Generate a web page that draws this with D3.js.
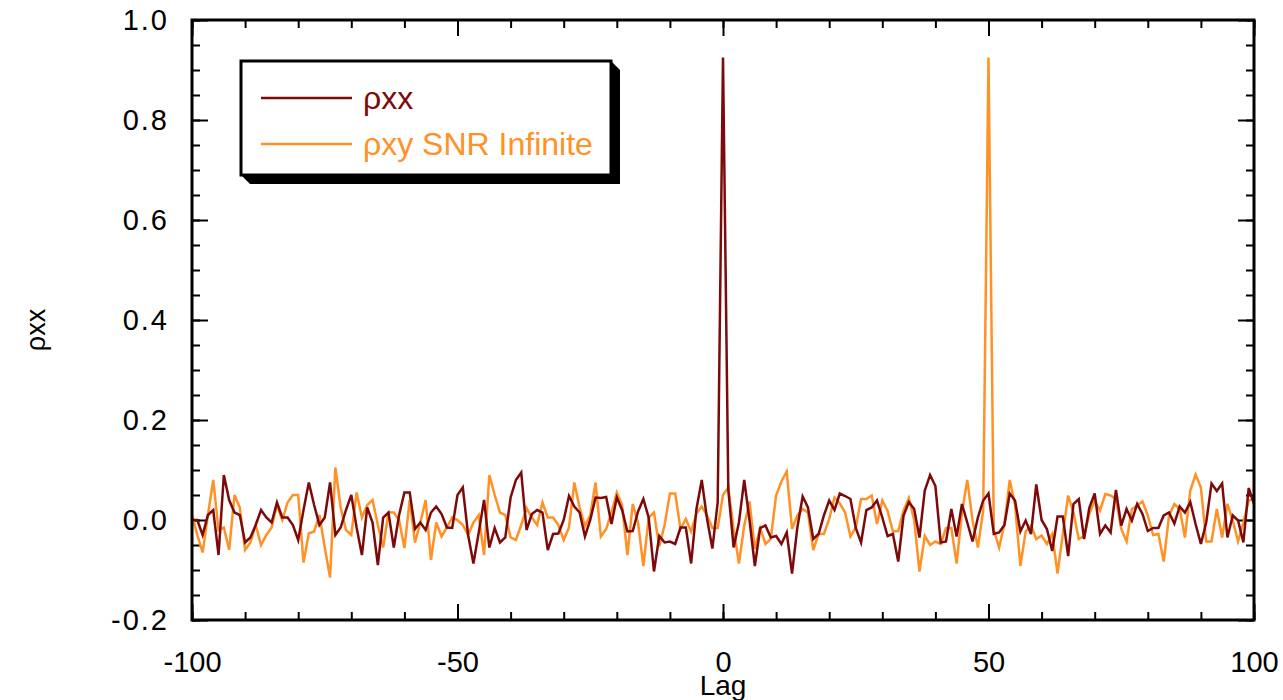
<!DOCTYPE html>
<html>
<head>
<meta charset="utf-8">
<script src="https://cdn.jsdelivr.net/npm/d3@7"></script>
<style>
	html, body { margin: 0; padding: 0; background: #fff; }
	svg text { font-family: "Liberation Sans", Arial, sans-serif; }
</style>
</head>
<body>
<div id="chart"></div>
<script>
"use strict";

// lag axis, one value per step
var lags = d3.range(-100, 101);

// autocorrelation (lag -100 .. 100)
var rhoXX = [
	0.0, 0.0, -0.03, 0.01, 0.02, -0.07, 0.09, 0.04, 0.015, 0.01,
	-0.045, -0.035, -0.01, 0.02, 0.005, -0.005, 0.035, 0.005, 0.005, -0.01,
	-0.04, 0.02, 0.075, 0.03, -0.01, 0.005, 0.075, -0.03, -0.015, 0.02,
	0.05, -0.015, -0.07, 0.025, -0.005, -0.09, 0.005, 0.015, -0.055, 0.01,
	0.055, 0.055, -0.018, -0.005, -0.02, 0.015, 0.027, 0.012, -0.015, -0.016,
	0.05, 0.065, -0.03, -0.087, -0.025, 0.04, -0.055, -0.016, -0.045, -0.035,
	0.045, 0.08, 0.095, -0.02, 0.012, 0.02, 0.015, -0.06, -0.028, -0.027,
	0.0, 0.048, 0.027, 0.015, -0.033, 0.0, 0.045, 0.044, 0.046, -0.008,
	0.045, 0.02, -0.023, -0.022, 0.017, 0.042, 0.005, -0.103, -0.032, -0.045,
	-0.043, -0.048, -0.015, -0.015, -0.087, 0.022, 0.08, 0.002, -0.057, 0.035,
	0.925,
	0.06, -0.055, -0.005, 0.08, -0.001, -0.092, -0.016, -0.011, -0.035, -0.032,
	-0.048, -0.025, -0.107, -0.015, 0.047, 0.025, -0.038, -0.028, 0.009, 0.039,
	0.02, 0.053, 0.048, 0.042, -0.016, -0.045, 0.02, 0.025, 0.039, 0.005,
	-0.032, -0.028, -0.083, 0.009, 0.036, 0.022, -0.035, 0.059, 0.09, 0.068,
	-0.045, -0.043, 0.022, -0.033, 0.032, -0.005, -0.043, 0.005, 0.039, 0.053,
	-0.028, -0.025, -0.01, 0.053, 0.039, -0.023, -0.001, -0.028, 0.071, 0.0,
	-0.018, -0.062, 0.007, 0.007, -0.072, 0.032, 0.042, -0.038, 0.025, 0.053,
	-0.028, -0.011, -0.025, 0.06, -0.011, 0.022, -0.001, 0.032, 0.012, -0.022,
	-0.016, -0.016, 0.009, 0.015, -0.007, 0.027, 0.015, 0.036, -0.008, -0.048,
	-0.005, 0.073, 0.058, 0.073, -0.035, 0.009, -0.001, -0.045, 0.064, 0.032
];

// cross-correlation, SNR infinite (peak at lag 50)
var rhoXY = [
	0.01, -0.03, -0.065, 0.01, 0.08, -0.02, -0.015, -0.06, 0.05, 0.025,
	-0.06, -0.045, -0.01, -0.05, -0.03, -0.015, 0.03, 0.0, 0.035, 0.05,
	0.05, -0.085, -0.027, -0.023, 0.01, -0.055, -0.115, 0.105, 0.025, -0.02,
	-0.03, 0.055, 0.005, 0.03, 0.04, -0.01, -0.055, 0.015, 0.015, 0.0,
	-0.056, 0.04, -0.045, -0.005, 0.04, -0.08, -0.005, -0.033, -0.015, 0.005,
	0.0, -0.01, -0.03, -0.005, 0.01, -0.07, 0.09, 0.05, 0.015, 0.01,
	-0.035, -0.04, -0.01, 0.024, 0.005, -0.01, 0.035, 0.005, 0.005, -0.01,
	-0.04, -0.015, 0.075, 0.025, -0.012, 0.01, 0.075, -0.033, -0.018, 0.015,
	0.055, 0.03, -0.07, 0.032, -0.005, -0.092, 0.005, 0.015, -0.053, -0.01,
	0.053, 0.053, -0.018, 0.002, -0.023, 0.013, 0.027, 0.009, -0.016, -0.016,
	0.05, 0.065, -0.018, -0.087, -0.011, 0.037, -0.058, -0.016, -0.048, -0.038,
	0.049, 0.077, 0.097, -0.018, 0.009, 0.022, 0.015, -0.06, -0.028, -0.028,
	0.002, 0.045, 0.033, 0.015, -0.033, -0.015, 0.042, 0.042, 0.049, -0.008,
	0.039, 0.018, -0.023, -0.022, 0.019, 0.044, 0.0, -0.103, -0.032, -0.05,
	-0.043, -0.048, -0.016, -0.016, -0.087, 0.015, 0.08, -0.001, -0.055, 0.018,
	0.925, -0.02, -0.055, -0.008, 0.08, 0.03, -0.092, -0.023, -0.011, -0.038,
	-0.031, -0.048, -0.028, -0.107, -0.028, 0.049, 0.015, -0.038, -0.032, 0.012,
	0.039, 0.019, 0.052, 0.049, 0.042, -0.018, -0.043, 0.022, 0.029, 0.037,
	0.009, -0.03, -0.028, -0.083, 0.009, 0.032, 0.022, -0.035, 0.059, 0.091,
	0.065, -0.043, -0.043, 0.022, -0.035, 0.032, -0.001, -0.043, -0.005, 0.039, 0.042
];

var xTicks = [-100, -50, 0, 50, 100];
var yTicks = [-0.2, 0, 0.2, 0.4, 0.6, 0.8, 1.0];
var seriesNames = ["\u03c1xx", "\u03c1xy SNR Infinite"];
var seriesColors = ["#7d0a0a", "#ff9126"];

var width = 1283,
	height = 700,
	margin = {top: 20, right: 29, bottom: 80, left: 192},
	innerW = width - margin.left - margin.right,
	innerH = height - margin.top - margin.bottom;

var svg = d3.select("#chart").append("svg")
	.attr("width", width)
	.attr("height", height);

var g = svg.append("g")
	.attr("transform", "translate(" + margin.left + "," + margin.top + ")");

var x = d3.scaleLinear().domain([-100, 100]).range([0, innerW]);
var y = d3.scaleLinear().domain([-0.2, 1.0]).range([innerH, 0]);

// minor ticks every 10 lags / 0.05, major ones carry the labels
var xMinor = d3.range(-100, 101, 10);
var yMinor = d3.range(-4, 21).map(function(i) { return i * 0.05; });

function styleAxis(sel) {
	sel.select(".domain").remove();
	sel.selectAll("line").attr("stroke", "#000").attr("stroke-width", 2);
	sel.selectAll("text")
		.attr("fill", "#000")
		.attr("font-size", 29);
}

// left
g.append("g").call(d3.axisLeft(y).tickValues(yMinor).tickSize(-8).tickFormat("")).call(styleAxis);
g.append("g").call(d3.axisLeft(y).tickValues(yTicks).tickSize(-16).tickPadding(23)
	.tickFormat(function(d) { return d.toFixed(1); })).call(styleAxis)
	.selectAll("text").attr("letter-spacing", 2);
// right
g.append("g").attr("transform", "translate(" + innerW + ",0)")
	.call(d3.axisRight(y).tickValues(yMinor).tickSize(-8).tickFormat("")).call(styleAxis);
g.append("g").attr("transform", "translate(" + innerW + ",0)")
	.call(d3.axisRight(y).tickValues(yTicks).tickSize(-16).tickFormat("")).call(styleAxis);
// bottom
g.append("g").attr("transform", "translate(0," + innerH + ")")
	.call(d3.axisBottom(x).tickValues(xMinor).tickSize(-8).tickFormat("")).call(styleAxis);
g.append("g").attr("transform", "translate(0," + innerH + ")")
	.call(d3.axisBottom(x).tickValues(xTicks).tickSize(-16).tickPadding(31)
		.tickFormat(function(d) { return String(d); })).call(styleAxis);
// top
g.append("g").call(d3.axisTop(x).tickValues(xMinor).tickSize(-8).tickFormat("")).call(styleAxis);
g.append("g").call(d3.axisTop(x).tickValues(xTicks).tickSize(-16).tickFormat("")).call(styleAxis);

// the two series
var line = d3.line()
	.x(function(d) { return x(d[0]); })
	.y(function(d) { return y(d[1]); });

[rhoXY, rhoXX].forEach(function(vals) {
	var i = vals === rhoXX ? 0 : 1;
	g.append("path")
		.datum(lags.map(function(l, k) { return [l, vals[k]]; }))
		.attr("fill", "none")
		.attr("stroke", seriesColors[i])
		.attr("stroke-width", 2.5)
		.attr("stroke-linejoin", "miter")
		.attr("d", line);
});

// frame
g.append("rect")
	.attr("width", innerW)
	.attr("height", innerH)
	.attr("fill", "none")
	.attr("stroke", "#000")
	.attr("stroke-width", 3);

// axis titles
svg.append("text")
	.attr("x", margin.left + innerW / 2)
	.attr("y", 695)
	.attr("text-anchor", "middle")
	.attr("font-size", 28)
	.text("Lag");

svg.append("text")
	.attr("transform", "translate(45,330) rotate(-90)")
	.attr("text-anchor", "middle")
	.attr("font-size", 27)
	.text("\u03c1xx");

// legend box with a drop shadow
var lg = {x: 241, y: 61, w: 370, h: 114, off: 9};
svg.append("polygon")
	.attr("points", [
		[lg.x + lg.w, lg.y],
		[lg.x + lg.w + lg.off, lg.y + lg.off],
		[lg.x + lg.w + lg.off, lg.y + lg.h + lg.off],
		[lg.x + lg.off, lg.y + lg.h + lg.off],
		[lg.x, lg.y + lg.h]
	].join(" "))
	.attr("fill", "#000");
svg.append("rect")
	.attr("x", lg.x).attr("y", lg.y)
	.attr("width", lg.w).attr("height", lg.h)
	.attr("fill", "#fff")
	.attr("stroke", "#000")
	.attr("stroke-width", 3);

var items = svg.selectAll(".legend-item")
	.data(seriesNames)
	.enter().append("g")
	.attr("class", "legend-item")
	.attr("transform", function(d, i) { return "translate(" + lg.x + "," + (lg.y + 37 + i * 46) + ")"; });

items.append("line")
	.attr("x1", 20).attr("x2", 111)
	.attr("stroke", function(d, i) { return seriesColors[i]; })
	.attr("stroke-width", 2.5);

items.append("text")
	.attr("x", 122)
	.attr("dy", "0.35em")
	.attr("font-size", 32)
	.attr("fill", function(d, i) { return seriesColors[i]; })
	.text(function(d) { return d; });
</script>
</body>
</html>
